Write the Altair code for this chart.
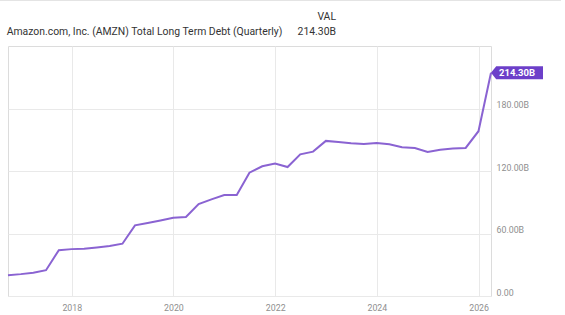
import altair as alt
import pandas as pd

dates = [
    "2016-09-30", "2016-12-31", "2017-03-31", "2017-06-30", "2017-09-30", "2017-12-31",
    "2018-03-31", "2018-06-30", "2018-09-30", "2018-12-31", "2019-03-31", "2019-06-30",
    "2019-09-30", "2019-12-31", "2020-03-31", "2020-06-30", "2020-09-30", "2020-12-31",
    "2021-03-31", "2021-06-30", "2021-09-30", "2021-12-31", "2022-03-31", "2022-06-30",
    "2022-09-30", "2022-12-31", "2023-03-31", "2023-06-30", "2023-09-30", "2023-12-31",
    "2024-03-31", "2024-06-30", "2024-09-30", "2024-12-31", "2025-03-31", "2025-06-30",
    "2025-09-30", "2025-12-31", "2026-03-31",
]
values = [
    20.0, 21.0, 22.3, 24.8, 44.0, 45.0,
    45.3, 46.5, 47.9, 50.2, 67.8, 70.0,
    72.5, 75.2, 75.8, 88.3, 92.8, 96.9,
    96.9, 118.4, 124.5, 127.1, 123.8, 136.0,
    138.6, 148.9, 147.9, 146.6, 146.0, 146.9,
    145.7, 142.8, 142.1, 138.3, 140.5, 141.5,
    142.1, 158.2, 214.3,
]
x_tick_years = [2018, 2020, 2022, 2024, 2026]
y_ticks = [0, 60, 120, 180]
title_text = "Amazon.com, Inc. (AMZN) Total Long Term Debt (Quarterly)"
val_header = "VAL"
last_label = "214.30B"

FONT = "Roboto"
LINE = "#8a63d2"
BADGE = "#6c3fc9"
LABEL = "#8f8f8f"

df = pd.DataFrame({"date": pd.to_datetime(dates), "value": values})
last_df = df.tail(1).assign(label=last_label)

x_scale = alt.Scale(domain=[dates[0], dates[-1]], nice=False)
y_scale = alt.Scale(domain=[0, 240], nice=False)

x_enc = alt.X(
    "date:T",
    scale=x_scale,
    axis=alt.Axis(
        values=[alt.DateTime(year=y, month=1, date=1) for y in x_tick_years],
        format="%Y",
        title=None,
        grid=True,
        gridColor="#e9e9e9",
        domain=False,
        ticks=False,
        labelPadding=7,
        labelFontSize=8.8,
        labelColor=LABEL,
        labelFont=FONT,
    ),
)
y_enc = alt.Y(
    "value:Q",
    scale=y_scale,
    axis=alt.Axis(
        orient="right",
        values=y_ticks,
        labelExpr="datum.value == 0 ? '0.00' : format(datum.value, '.2f') + 'B'",
        title=None,
        grid=True,
        gridColor="#e9e9e9",
        domain=False,
        ticks=False,
        labelPadding=5,
        labelBaseline="alphabetic",
        labelOffset=-1,
        labelFontSize=8.8,
        labelColor=LABEL,
        labelFont=FONT,
    ),
)

line = alt.Chart(df).mark_line(color=LINE, strokeWidth=2).encode(x=x_enc, y=y_enc)

badge = alt.Chart(last_df).mark_point(
    shape="M0,0 L0.2,-0.25 L2,-0.25 L2,0.25 L0.2,0.25 Z",
    size=2704,
    filled=True,
    color=BADGE,
    opacity=1,
).encode(x="date:T", y="value:Q")

badge_text = alt.Chart(last_df).mark_text(
    align="left", baseline="middle", dx=8, color="white", font=FONT,
    fontSize=9.5, fontWeight="bold",
).encode(x="date:T", y="value:Q", text="label:N")

header_df = pd.DataFrame({"t": [title_text], "h": [val_header], "v": [last_label]})
title_mark = alt.Chart(header_df).mark_text(
    align="left", baseline="middle", font=FONT, fontSize=10.4, color="#333333"
).encode(x=alt.value(-1.3), y=alt.value(-13.7), text="t:N")
val_mark = alt.Chart(header_df).mark_text(
    align="right", baseline="middle", font=FONT, fontSize=10.4, color="#333333"
).encode(x=alt.value(328), y=alt.value(-28.7), text="h:N")
num_mark = alt.Chart(header_df).mark_text(
    align="right", baseline="middle", font=FONT, fontSize=10.4, color="#333333"
).encode(x=alt.value(328), y=alt.value(-13.7), text="v:N")

top_border = alt.Chart(header_df).mark_rule(color="#e4e4e4", strokeWidth=1).encode(
    x=alt.value(-8), x2=alt.value(553), y=alt.value(-45.5)
)

chart = alt.layer(
    line, badge, badge_text, title_mark, val_mark, num_mark, top_border
).properties(
    width=483,
    height=250,
    autosize="none",
    padding={"left": 8, "top": 46, "right": 74, "bottom": 19},
    background="white",
).configure_view(stroke="#dcdcdc", strokeWidth=1)

chart.save("out.html", embed_options={"renderer": "svg", "actions": False})
